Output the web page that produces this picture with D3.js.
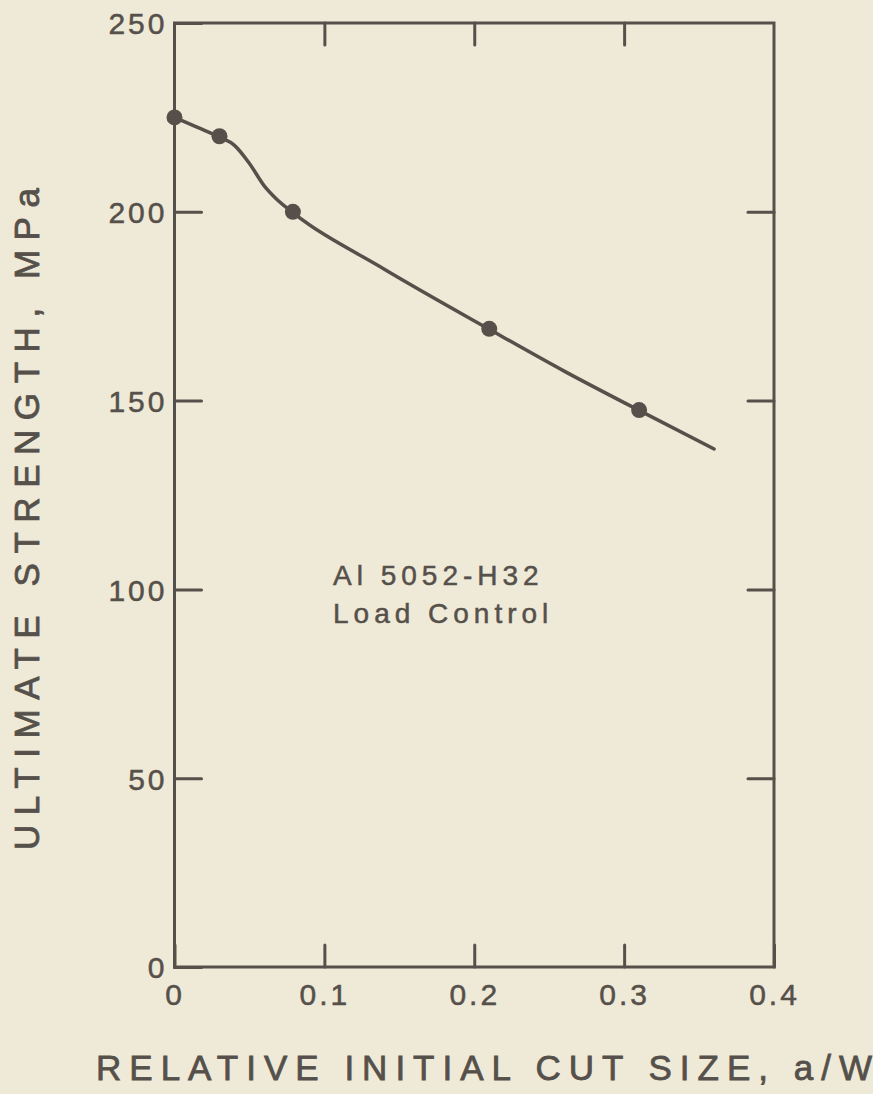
<!DOCTYPE html>
<html>
<head>
<meta charset="utf-8">
<script src="https://cdn.jsdelivr.net/npm/d3@7"></script>
<style>
  html, body { margin: 0; padding: 0; background: #efe9d8; }
  svg { display: block; }
  text { font-family: "Liberation Sans", Arial, sans-serif; fill: #55504a; }
</style>
</head>
<body>
<div id="chart"></div>
<script>
// measured points
const cutSize = [0, 0.03, 0.079, 0.21, 0.31];
const strength = [225, 220, 200, 169, 147.5];

// hand-drawn fitted curve
const fitX = [0, 0.015, 0.03, 0.04, 0.05, 0.06, 0.068, 0.079, 0.14, 0.21, 0.26, 0.31, 0.36];
const fitY = [225, 222.4, 219.8, 217.6, 212.8, 206.8, 203.4, 199.8, 184.8, 168.9, 157.8, 147.4, 137.2];

const xTicks = [0, 0.1, 0.2, 0.3, 0.4];
const yTicks = [0, 50, 100, 150, 200, 250];
const xTickLabels = ["0", "0.1", "0.2", "0.3", "0.4"];

const width = 873;
const height = 1094;
const ink = "#55504a";

const margin = { left: 174.5, right: 99, top: 23, bottom: 127 };

const svg = d3.select("#chart")
    .append("svg")
    .attr("width", width)
    .attr("height", height);

svg.append("rect")
    .attr("width", width)
    .attr("height", height)
    .attr("fill", "#efe9d8");

const x = d3.scaleLinear()
    .domain([0, 0.4])
    .range([margin.left, width - margin.right]);

const y = d3.scaleLinear()
    .domain([0, 250])
    .range([height - margin.bottom, margin.top]);

// axes, ticks pointing inward
const axLeft = svg.append("g")
    .attr("transform", `translate(${x(0)},0)`)
    .call(d3.axisLeft(y).tickValues(yTicks).tickSizeInner(-27).tickSizeOuter(0).tickPadding(7));

const axRight = svg.append("g")
    .attr("transform", `translate(${x(0.4)},0)`)
    .call(d3.axisRight(y).tickValues(yTicks.slice(1, -1)).tickSizeInner(-26).tickSizeOuter(0).tickFormat(""));

const axBottom = svg.append("g")
    .attr("transform", `translate(0,${y(0)})`)
    .call(d3.axisBottom(x).tickValues(xTicks).tickSizeInner(-22).tickSizeOuter(0).tickPadding(17)
        .tickFormat((d, i) => xTickLabels[i]));

const axTop = svg.append("g")
    .attr("transform", `translate(0,${y(250)})`)
    .call(d3.axisTop(x).tickValues(xTicks.slice(1, -1)).tickSizeInner(-22).tickSizeOuter(0).tickFormat(""));

[axLeft, axRight, axBottom, axTop].forEach(g => {
    g.select(".domain").remove();
    g.selectAll(".tick line")
        .attr("stroke", ink)
        .attr("stroke-width", 3)
        .attr("stroke-linecap", "round");
    g.selectAll(".tick text")
        .attr("fill", ink)
        .attr("stroke", ink)
        .attr("stroke-width", 0.5)
        .style("font-size", "30px")
        .style("letter-spacing", "3px")
        .attr("font-family", null);
});

axBottom.selectAll(".tick text").attr("dy", "0.71em");
axLeft.selectAll(".tick text").attr("dy", "0.36em");

// frame
svg.append("rect")
    .attr("x", x(0))
    .attr("y", y(250))
    .attr("width", x(0.4) - x(0))
    .attr("height", y(0) - y(250))
    .attr("fill", "none")
    .attr("stroke", ink)
    .attr("stroke-width", 3);

// fitted curve
const line = d3.line()
    .x((d, i) => x(fitX[i]))
    .y(d => y(d))
    .curve(d3.curveMonotoneX);

svg.append("path")
    .datum(fitY)
    .attr("d", line)
    .attr("fill", "none")
    .attr("stroke", ink)
    .attr("stroke-width", 3.5)
    .attr("stroke-linecap", "round");

// data points
svg.selectAll(".pt")
    .data(strength)
    .enter()
    .append("circle")
    .attr("class", "pt")
    .attr("cx", (d, i) => x(cutSize[i]))
    .attr("cy", d => y(d))
    .attr("r", 8)
    .attr("fill", ink);

// annotation
const note = svg.append("g")
    .style("font-size", "28px")
    .style("letter-spacing", "5px")
    .attr("stroke", ink)
    .attr("stroke-width", 0.5);

note.append("text")
    .attr("x", 333)
    .attr("y", 585)
    .text("Al 5052-H32");

note.append("text")
    .attr("x", 333)
    .attr("y", 623)
    .text("Load Control");

// axis titles
svg.append("text")
    .attr("x", 96)
    .attr("y", 1080)
    .style("font-size", "35px")
    .attr("stroke", ink)
    .attr("stroke-width", 0.8)
    .attr("textLength", 776)
    .attr("lengthAdjust", "spacing")
    .text("RELATIVE INITIAL CUT SIZE, a/W");

svg.append("text")
    .attr("transform", "translate(39,519) rotate(-90)")
    .attr("text-anchor", "middle")
    .style("font-size", "35px")
    .attr("stroke", ink)
    .attr("stroke-width", 0.8)
    .attr("textLength", 662)
    .attr("lengthAdjust", "spacing")
    .text("ULTIMATE STRENGTH, MPa");
</script>
</body>
</html>
